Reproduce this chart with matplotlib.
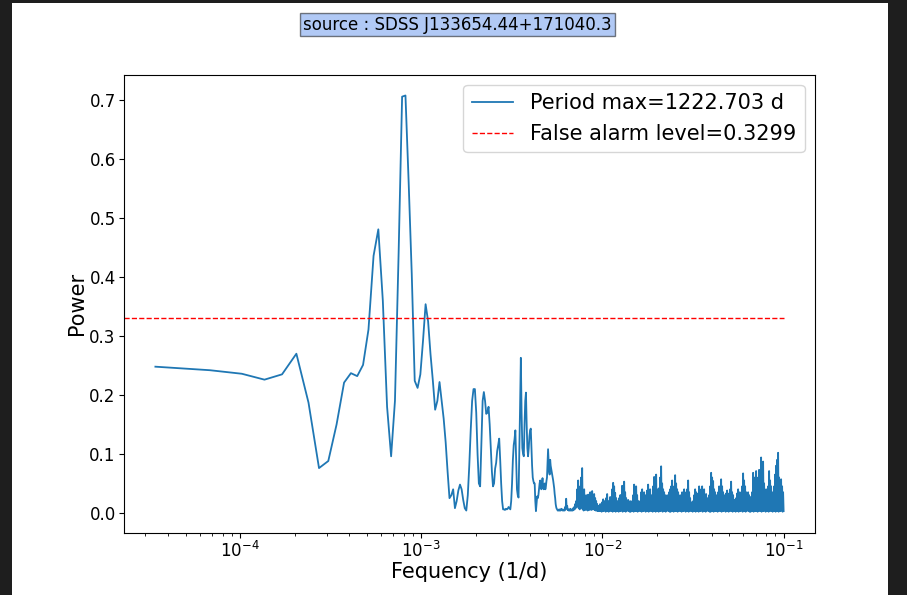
import numpy as np
import matplotlib.pyplot as plt
from matplotlib.patches import Rectangle

source_name = "SDSS J133654.44+171040.3"
period_max = 1222.703   # days
fap_level = 0.3299
peak_index = 24         # grid index of the highest peak
n_freq = 2934

# frequency grid step (1/d)
df = 1.0 / (peak_index * period_max)

# power on the first 150 grid frequencies (k = 1..150)
power_lo = [
    0.248, 0.242, 0.236, 0.226, 0.235, 0.270, 0.187, 0.076, 0.088, 0.150,
    0.221, 0.237, 0.232, 0.251, 0.311, 0.436, 0.481, 0.360, 0.180, 0.096,
    0.190, 0.440, 0.706, 0.708, 0.560, 0.405, 0.224, 0.212, 0.235, 0.292,
    0.354, 0.325, 0.269, 0.224, 0.175, 0.190, 0.222, 0.190, 0.160, 0.120,
    0.070, 0.025, 0.030, 0.040, 0.008, 0.020, 0.038, 0.048, 0.040, 0.022,
    0.008, 0.004, 0.030, 0.080, 0.140, 0.190, 0.210, 0.210, 0.170, 0.100,
    0.050, 0.045, 0.120, 0.190, 0.205, 0.190, 0.168, 0.170, 0.180, 0.150,
    0.110, 0.070, 0.045, 0.050, 0.075, 0.085, 0.105, 0.115, 0.126, 0.090,
    0.050, 0.020, 0.006, 0.006, 0.005, 0.007, 0.006, 0.007, 0.010, 0.008,
    0.006, 0.020, 0.050, 0.090, 0.115, 0.125, 0.140, 0.090, 0.040, 0.030,
    0.026, 0.100, 0.180, 0.263, 0.170, 0.110, 0.100, 0.096, 0.150, 0.190,
    0.204, 0.150, 0.110, 0.096, 0.110, 0.130, 0.140, 0.143, 0.110, 0.080,
    0.060, 0.054, 0.050, 0.050, 0.020, 0.003, 0.015, 0.028, 0.025, 0.030,
    0.040, 0.050, 0.055, 0.045, 0.040, 0.050, 0.059, 0.045, 0.040, 0.045,
    0.050, 0.040, 0.045, 0.054, 0.060, 0.085, 0.108, 0.090, 0.070, 0.065,
]

# high-frequency part (k > 150): local maxima and minima, low to high frequency
dense_peaks = [
    0.090, 0.075, 0.065, 0.055, 0.042, 0.025, 0.010, 0.006, 0.005, 0.006,
    0.005, 0.007, 0.006, 0.005, 0.006, 0.010, 0.024, 0.012, 0.006, 0.005,
    0.007, 0.006, 0.005, 0.008, 0.010, 0.015, 0.020, 0.040, 0.055, 0.030,
    0.045, 0.060, 0.076, 0.020, 0.040, 0.025, 0.030, 0.020, 0.031, 0.025,
    0.035, 0.030, 0.037, 0.030, 0.032, 0.025, 0.020, 0.015, 0.012, 0.011,
    0.015, 0.012, 0.018, 0.023, 0.020, 0.015, 0.025, 0.032, 0.020, 0.012,
    0.027, 0.018, 0.040, 0.051, 0.045, 0.034, 0.025, 0.020, 0.018, 0.025,
    0.030, 0.030, 0.046, 0.040, 0.053, 0.035, 0.025, 0.020, 0.022, 0.018,
    0.020, 0.015, 0.020, 0.030, 0.048, 0.040, 0.045, 0.030, 0.020, 0.018,
    0.020, 0.035, 0.040, 0.032, 0.035, 0.030, 0.025, 0.038, 0.048, 0.035,
    0.040, 0.030, 0.025, 0.045, 0.061, 0.050, 0.065, 0.040, 0.035, 0.042,
    0.060, 0.079, 0.050, 0.040, 0.035, 0.030, 0.025, 0.030, 0.028, 0.035,
    0.040, 0.045, 0.055, 0.040, 0.045, 0.064, 0.050, 0.040, 0.035, 0.025,
    0.030, 0.020, 0.035, 0.030, 0.040, 0.030, 0.035, 0.040, 0.055, 0.035,
    0.025, 0.018, 0.015, 0.020, 0.030, 0.040, 0.035, 0.030, 0.033, 0.045,
    0.035, 0.040, 0.045, 0.035, 0.040, 0.030, 0.032, 0.025, 0.020, 0.030,
    0.045, 0.068, 0.060, 0.054, 0.040, 0.035, 0.030, 0.025, 0.035, 0.045,
    0.040, 0.057, 0.045, 0.035, 0.030, 0.025, 0.033, 0.038, 0.030, 0.033,
    0.040, 0.053, 0.035, 0.030, 0.022, 0.018, 0.025, 0.033, 0.040, 0.035,
    0.028, 0.035, 0.045, 0.067, 0.055, 0.045, 0.035, 0.030, 0.035, 0.030,
    0.027, 0.025, 0.035, 0.068, 0.060, 0.055, 0.071, 0.045, 0.060, 0.073,
    0.050, 0.094, 0.080, 0.087, 0.050, 0.035, 0.040, 0.035, 0.045, 0.071,
    0.055, 0.045, 0.035, 0.030, 0.045, 0.065, 0.080, 0.090, 0.102, 0.060,
    0.040, 0.057, 0.045, 0.035,
]
dense_troughs = [
    0.080, 0.070, 0.060, 0.048, 0.032, 0.015, 0.007, 0.004, 0.004, 0.004,
    0.004, 0.005, 0.004, 0.004, 0.004, 0.006, 0.008, 0.005, 0.004, 0.004,
    0.004, 0.004, 0.004, 0.005, 0.006, 0.008, 0.010, 0.012, 0.008, 0.006,
    0.008, 0.010, 0.006, 0.004, 0.006, 0.005, 0.006, 0.004, 0.006, 0.005,
    0.006, 0.005, 0.008, 0.006, 0.005, 0.004, 0.004, 0.003, 0.003, 0.003,
    0.003, 0.002, 0.004, 0.003, 0.005, 0.002, 0.003, 0.004, 0.002, 0.003,
    0.004, 0.003, 0.002, 0.005, 0.003, 0.002, 0.004, 0.003, 0.002, 0.004,
    0.003, 0.005, 0.002, 0.003, 0.004, 0.002, 0.003, 0.005, 0.003, 0.002,
    0.002, 0.004, 0.003, 0.002, 0.005, 0.003, 0.004, 0.002, 0.003, 0.004,
    0.003, 0.002, 0.004, 0.003, 0.005, 0.002, 0.003, 0.004, 0.002, 0.003,
    0.004, 0.003, 0.002, 0.005, 0.003, 0.002, 0.004, 0.003, 0.002, 0.004,
    0.003, 0.005, 0.002, 0.003, 0.004, 0.002, 0.003, 0.005, 0.003, 0.002,
    0.002, 0.004, 0.003, 0.002, 0.005, 0.003, 0.004, 0.002, 0.003, 0.004,
    0.003, 0.002, 0.004, 0.003, 0.005, 0.002, 0.003, 0.004, 0.002, 0.003,
    0.004, 0.003, 0.002, 0.005, 0.003, 0.002, 0.004, 0.003, 0.002, 0.004,
    0.003, 0.005, 0.002, 0.003, 0.004, 0.002, 0.003, 0.005, 0.003, 0.002,
    0.002, 0.004, 0.003, 0.002, 0.005, 0.003, 0.004, 0.002, 0.003, 0.004,
    0.003, 0.002, 0.004, 0.003, 0.005, 0.002, 0.003, 0.004, 0.002, 0.003,
    0.004, 0.003, 0.002, 0.005, 0.003, 0.002, 0.004, 0.003, 0.002, 0.004,
    0.003, 0.005, 0.002, 0.003, 0.004, 0.002, 0.003, 0.005, 0.003, 0.002,
    0.002, 0.004, 0.003, 0.002, 0.005, 0.003, 0.004, 0.002, 0.003, 0.004,
    0.003, 0.002, 0.004, 0.003, 0.005, 0.002, 0.003, 0.004, 0.002, 0.003,
    0.004, 0.003, 0.002, 0.005, 0.003, 0.002, 0.004, 0.003, 0.002, 0.004,
    0.003, 0.005, 0.002, 0.003,
]

freq_lo = df * np.arange(1, len(power_lo) + 1)
freq_hi = np.geomspace(df * (len(power_lo) + 1), df * n_freq, 2 * len(dense_peaks))
power_hi = np.column_stack([dense_peaks, dense_troughs]).ravel()

freq = np.concatenate([freq_lo, freq_hi])
power = np.concatenate([power_lo, power_hi])

fig = plt.figure(figsize=(9.07, 5.95), dpi=100, facecolor='#1e1e1e')
fig.patches.append(Rectangle((12 / 907, 0), 876 / 907, 592 / 595,
                             transform=fig.transFigure, facecolor='white',
                             edgecolor='none', zorder=-1))
ax = fig.add_axes([0.1367, 0.105, 0.7619, 0.7695])

ax.plot(freq, power, lw=1.3, label='Period max=%.3f d' % period_max)
ax.set_xscale('log')
xlim = ax.get_xlim()
ax.hlines(fap_level, xlim[0], freq[-1], colors='red', linestyles='--',
          linewidth=1, label='False alarm level=%.4f' % fap_level)
ax.set_xlim(xlim)

ax.set_xlabel('Fequency (1/d)', fontsize=15, labelpad=1)
ax.set_ylabel('Power', fontsize=15, labelpad=2)
ax.tick_params(labelsize=12, pad=2.5)
ax.legend(loc='upper right', fontsize=15)

fig.text(457.5 / 907, 1 - 24.5 / 595, 'source : ' + source_name, fontsize=12,
         ha='center', va='center',
         bbox=dict(facecolor='cornflowerblue', alpha=0.5, pad=2))

fig.savefig('out.png', dpi=100, facecolor=fig.get_facecolor())
